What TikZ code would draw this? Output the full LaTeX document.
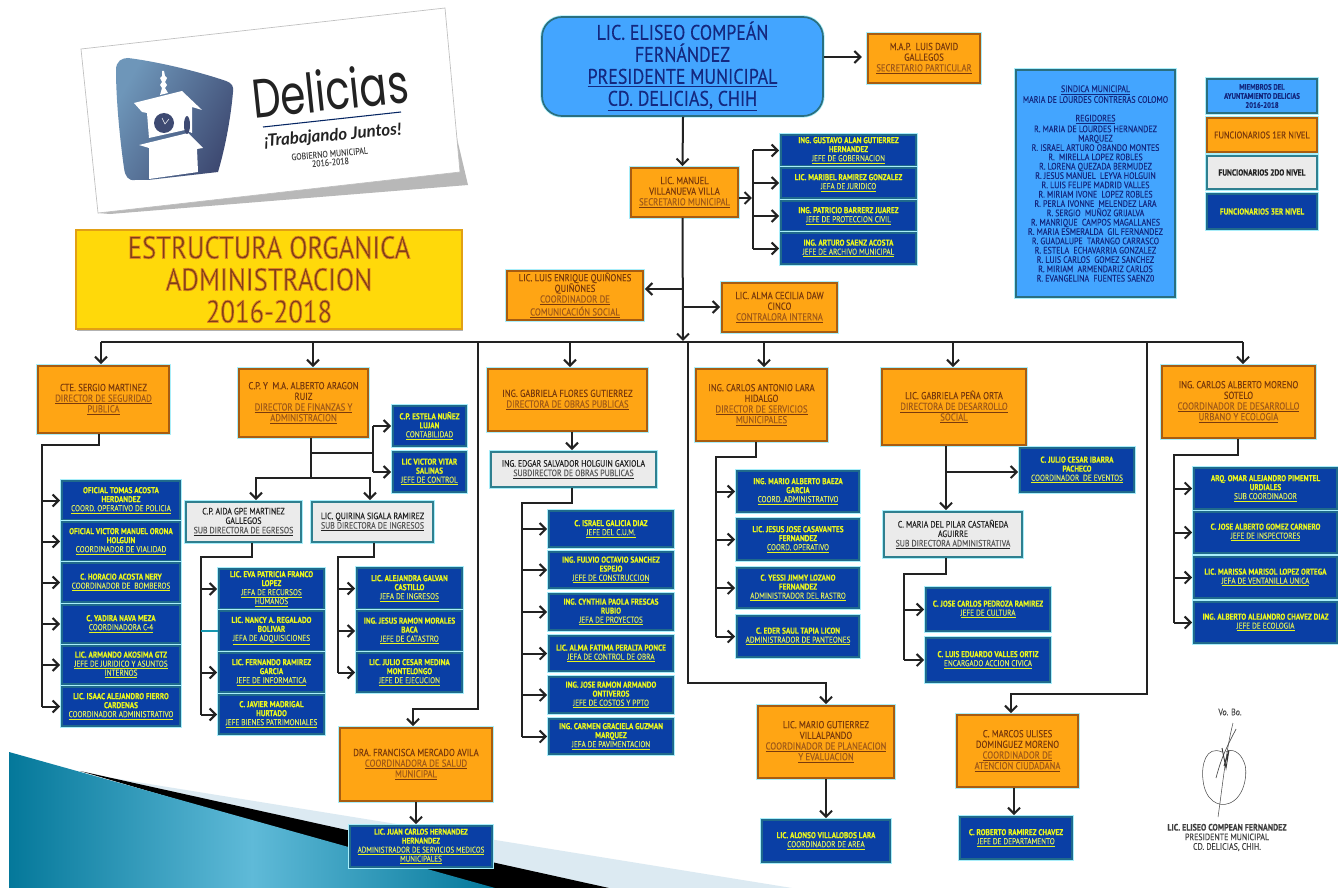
\documentclass[tikz,border=0pt]{standalone}
\usepackage{fontspec}
\usetikzlibrary{arrows.meta}
\setmainfont{PT Sans}[FakeStretch=0.85,FakeBold=0.18]
\newfontfamily\titlefont{PT Sans}[FakeStretch=0.85]
\newfontfamily\logofont{Poppins}[FakeStretch=0.74]
\newfontfamily\sloganfont{Lato}
\definecolor{glowc}{HTML}{A8EEFA}
\definecolor{orfill}{HTML}{FFA514}
\definecolor{orline}{HTML}{A85C10}
\definecolor{orname}{HTML}{7A3A0C}
\definecolor{orrole}{HTML}{A05A18}
\definecolor{blfill}{HTML}{0A3FA5}
\definecolor{blline}{HTML}{1F6A8C}
\definecolor{blname}{HTML}{E8F51E}
\definecolor{blrole}{HTML}{D8E860}
\definecolor{grfill}{HTML}{EBEBEB}
\definecolor{grline}{HTML}{2F7F8F}
\definecolor{skyfill}{HTML}{43A5FF}
\definecolor{skyline}{HTML}{2A6F80}
\definecolor{skytext}{HTML}{14287F}
\definecolor{inkc}{HTML}{222222}
\definecolor{towerd}{HTML}{3E4A72}
\definecolor{towerl}{HTML}{6E96B9}
\definecolor{wedged}{HTML}{04789A}
\definecolor{wedgel}{HTML}{5FBAD8}
\definecolor{stripe}{HTML}{DCEAF2}
\newcommand\rO[1]{\underline{\textcolor{orrole}{#1}}}
\newcommand\rB[1]{\underline{\mdseries\textcolor{blrole}{#1}}}
\newcommand\rG[1]{\underline{\textcolor{black!65}{#1}}}
\newcommand\rS[1]{\underline{#1}}
\newcommand\bx[7]{%
  \pgfmathsetmacro\bxw{(#5-#3)*0.75}\pgfmathsetmacro\bxh{(#6-#4)*0.75}%
  \pgfmathsetmacro\bxx{(#5+#3)/2}\pgfmathsetmacro\bxy{(#6+#4)/2}%
  \node[#2,minimum width=\bxw pt,minimum height=\bxh pt] (#1) at (\bxx,\bxy) {#7};}
\tikzset{
  basebox/.style={rectangle,inner sep=0pt,align=center,line width=1.3pt,
     preaction={draw=glowc,line width=3.2pt}},
  orbox/.style={basebox,fill=orfill,draw=orline,text=orname,font=\fontsize{7.6pt}{8pt}\selectfont},
  blbox/.style={basebox,fill=blfill,draw=blline,text=blname,font=\fontsize{6.4pt}{6.75pt}\selectfont\bfseries},
  grbox/.style={basebox,fill=grfill,draw=grline,text=inkc,font=\fontsize{6.9pt}{7.1pt}\selectfont},
  skybox/.style={basebox,fill=skyfill,draw=skyline,text=skytext,font=\fontsize{7pt}{7pt}\selectfont},
  ln/.style={draw=inkc,line width=1.5pt},
  arr/.style={ln,-{Straight Barb[length=4.5pt,width=9pt,line width=1.5pt]},shorten >=0.8pt},
  plain/.style={inner sep=0pt,align=center}
}
\begin{document}
\begin{tikzpicture}[x=0.75pt,y=-0.75pt]
\useasboundingbox (0,0) rectangle (1338,888);
\fill[white] (0,0) rectangle (1338,888);
% bottom-left wedge
\fill[stripe] (112,778) -- (792,888) -- (600,888) -- cycle;
\fill[black] (80,771) -- (609,888) -- (480,888) -- cycle;
\shade[left color=wedged,right color=wedged,middle color=wedgel]
  (9,752) -- (495,888) -- (9,888) -- cycle;
% logo card
\fill[black!28] (98,213) -- (110,214) -- (468,185) -- (455,130) -- (440,170) -- cycle;
\filldraw[fill=white,draw=black!25,line width=0.5pt] (81,49) -- (445,8) -- (460,172) -- (98,213) -- cycle;
\shade[left color=towerl,right color=towerd,shading angle=60]
  (128,58) .. controls (160,62) and (200,72) .. (226,81) .. controls (232,83) and (234,87) .. (233,92)
  .. controls (231,115) and (226,145) .. (218,172) -- (148,180) -- (135,180) .. controls (128,181) and (125,176) .. (124,168)
  .. controls (120,140) and (116,100) .. (116,70) .. controls (116,61) and (122,58) .. (128,58) -- cycle;
\fill[white] (162,71) -- (164,71) -- (165,76) -- (167,78) -- (165,82) -- (167,85) -- (165,88) -- (168,93) -- (160,95) -- (162,88) -- (160,85) -- (162,82) -- (160,78) -- (162,76) -- cycle;
\fill[white] (134,103) -- (182,91) -- (202,110) -- (192,107) -- (192,133) -- (185,130) -- (149,138) -- (147,113) -- (142,112) -- cycle;
\fill[white] (139,145) -- (188,133) -- (203,148) -- (197,149) -- (198,172) -- (149,179) -- (149,148) -- cycle;
\fill[towerd] (164,123) circle (10);
\fill[towerd] (187,125) ellipse (3 and 9);
\draw[white,line width=0.4pt] (162,118) -- (165,124) -- (169,119);
\node[plain,rotate=6,font=\logofont\fontsize{41pt}{42pt}\selectfont,text=inkc] (logoName) at (330,90) {Delicias};
\draw[color=blfill!60!black,line width=0.8pt] (263,127) -- (401,112);
\node[plain,rotate=5,font=\sloganfont\fontsize{12.6pt}{13pt}\selectfont\bfseries\itshape,text=inkc] (logoSlogan) at (333,136) {¡Trabajando Juntos!};
\node[plain,rotate=5,font=\fontsize{6.9pt}{6.4pt}\selectfont,text=black!70] (logoGov) at (330,158) {GOBIERNO MUNICIPAL\\2016-2018};
% title
\fill[black!30] (77,329) rectangle (463,331);
\bx{title}{rectangle,fill={rgb,255:red,255;green,217;blue,10},draw={rgb,255:red,226;green,160;blue,20},line width=1pt,align=center,inner sep=0pt,text={rgb,255:red,125;green,62;blue,24},font=\titlefont\fontsize{23.6pt}{24pt}\selectfont}{76}{230}{462}{329}{%
 \special{pdf:code q 2 Tr 0.5 w 0.88 0.52 0.12 RG}ESTRUCTURA ORGANICA\\ADMINISTRACION\\2016-2018\special{pdf:code Q}}
% top
\bx{pres}{rectangle,rounded corners=15pt,inner sep=0pt,align=center,fill=skyfill,draw=skyline,line width=1.3pt,preaction={draw=glowc,line width=2.5pt},text=skytext,font=\fontsize{15.8pt}{16.5pt}\selectfont}{542}{17}{823}{116}{LIC. ELISEO COMPEÁN\\FERNÁNDEZ\\\underline{PRESIDENTE MUNICIPAL}\\\underline{CD. DELICIAS, CHIH}}
\bx{luisdavid}{orbox}{868}{34}{980}{83}{M.A.P.~ LUIS DAVID\\GALLEGOS\\\rO{SECRETARIO PARTICULAR}}
\bx{manuel}{orbox}{631}{168}{738}{217}{LIC. MANUEL\\VILLANUEVA VILLA\\\rO{SECRETARIO MUNICIPAL}}
\bx{gustavo}{blbox}{781}{135}{916}{166}{ING. GUSTAVO ALAN GUTIERREZ\\HERNANDEZ\\\rB{JEFE DE GOBERNACION}}
\bx{maribel}{blbox}{781}{168}{916}{198}{LIC. MARIBEL RAMIREZ GONZALEZ\\\rB{JEFA DE JURIDICO}}
\bx{patricio}{blbox}{781}{201}{916}{231}{ING. PATRICIO BARRERZ JUAREZ\\\rB{JEFE DE PROTECCION CIVIL}}
\bx{arturo}{blbox}{781}{233}{916}{264}{ING. ARTURO SAENZ ACOSTA\\\rB{JEFE DE ARCHIVO MUNICIPAL}}
\bx{luisenrique}{orbox}{507}{271}{643}{320}{LIC. LUIS ENRIQUE QUIÑONES\\QUIÑONES\\\rO{COORDINADOR DE}\\\rO{COMUNICACIÓN SOCIAL}}
\bx{alma}{orbox}{722}{283}{837}{332}{LIC. ALMA CECILIA DAW\\CINCO\\\rO{CONTRALORA INTERNA}}
% ayuntamiento
\bx{sindica}{skybox}{1016}{70}{1175}{297}{\rS{SINDICA MUNICIPAL}\\MARIA DE LOURDES CONTRERAS COLOMO\\\mbox{}\\\rS{REGIDORES}\\R. MARIA DE LOURDES HERNANDEZ\\MARQUEZ\\R. ISRAEL ARTURO OBANDO MONTES\\R.~ MIRELLA LOPEZ ROBLES\\R. LORENA QUEZADA BERMUDEZ\\R. JESUS MANUEL~ LEYVA HOLGUIN\\R. LUIS FELIPE MADRID VALLES\\R. MIRIAM IVONE~ LOPEZ ROBLES\\R. PERLA IVONNE~ MELENDEZ LARA\\R. SERGIO~ MUÑOZ GRIJALVA\\R. MANRIQUE~ CAMPOS MAGALLANES\\R. MARIA ESMERALDA~ GIL FERNANDEZ\\R. GUADALUPE~ TARANGO CARRASCO\\R. ESTELA~ ECHAVARRIA GONZALEZ\\R. LUIS CARLOS~ GOMEZ SANCHEZ\\R. MIRIAM~ ARMENDARIZ CARLOS\\R. EVANGELINA~ FUENTES SAENZ0}
\bx{miembros}{skybox,font=\fontsize{6pt}{6.8pt}\selectfont\bfseries}{1207}{79}{1317}{113}{MIEMBROS DEL\\AYUNTAMIENTO DELICIAS\\2016-2018}
\bx{nivelA}{orbox,font=\fontsize{7.3pt}{7pt}\selectfont}{1207}{118}{1317}{152}{FUNCIONARIOS 1ER NIVEL}
\bx{nivelB}{grbox,font=\fontsize{6.6pt}{7pt}\selectfont\bfseries}{1207}{156}{1317}{189}{FUNCIONARIOS 2DO NIVEL}
\bx{nivelC}{blbox,font=\fontsize{6.5pt}{7pt}\selectfont\bfseries}{1207}{194}{1317}{229}{FUNCIONARIOS 3ER NIVEL}
% seguridad
\bx{sergio}{orbox}{38}{366}{169}{433}{CTE. SERGIO MARTINEZ\\\rO{DIRECTOR DE SEGURIDAD}\\\rO{PUBLICA}}
\bx{tomas}{blbox}{62}{481}{180}{520}{OFICIAL TOMAS ACOSTA\\HERDANDEZ\\\rB{COORD. OPERATIVO DE POLICIA}}
\bx{orona}{blbox}{62}{522}{180}{561}{OFICIAL VICTOR MANUEL ORONA\\HOLGUIN\\\rB{COORDINADOR DE VIALIDAD}}
\bx{horacio}{blbox}{62}{563}{180}{602}{C. HORACIO ACOSTA NERY\\\rB{COORDINADOR DE~ BOMBEROS}}
\bx{yadira}{blbox}{62}{605}{180}{643}{C. YADIRA NAVA MEZA\\\rB{COORDINADORA C-4}}
\bx{akosima}{blbox}{62}{646}{180}{684}{LIC. ARMANDO AKOSIMA GTZ\\\rB{JEFE DE JURIDICO Y ASUNTOS}\\\rB{INTERNOS}}
\bx{isaac}{blbox}{62}{687}{180}{726}{LIC. ISAAC ALEJANDRO FIERRO\\CARDENAS\\\rB{COORDINADOR ADMINISTRATIVO}}
% finanzas
\bx{aragon}{orbox}{239}{369}{368}{437}{C.P. Y~ M.A. ALBERTO ARAGON\\RUIZ\\\rO{DIRECTOR DE FINANZAS Y}\\\rO{ADMINISTRACION}}
\bx{estela}{blbox}{393}{406}{466}{446}{C.P. ESTELA NUÑEZ\\LUJAN\\\rB{CONTABILIDAD}}
\bx{vitar}{blbox}{393}{452}{466}{492}{LIC VICTOR VITAR\\SALINAS\\\rB{JEFE DE CONTROL}}
\bx{aida}{grbox}{186}{502}{301}{542}{C.P. AIDA GPE MARTINEZ\\GALLEGOS\\\rG{SUB DIRECTORA DE EGRESOS}}
\bx{quirina}{grbox}{312}{502}{433}{542}{LIC. QUIRINA SIGALA RAMIREZ\\\rG{SUB DIRECTORA DE INGRESOS}}
\bx{eva}{blbox}{219}{569}{324}{609}{LIC. EVA PATRICIA FRANCO\\LOPEZ\\\rB{JEFA DE RECURSOS}\\\rB{HUMANOS}}
\bx{nancy}{blbox}{219}{611}{324}{651}{LIC. NANCY A. REGALADO\\BOLIVAR\\\rB{JEFA DE ADQUISICIONES}}
\bx{fernando}{blbox}{219}{653}{324}{692}{LIC. FERNANDO RAMIREZ\\GARCIA\\\rB{JEFE DE INFORMATICA}}
\bx{javier}{blbox}{219}{695}{324}{734}{C. JAVIER MADRIGAL\\HURTADO\\\rB{JEFE BIENES PATRIMONIALES}}
\bx{alejandra}{blbox}{357}{568}{462}{609}{LIC. ALEJANDRA GALVAN\\CASTILLO\\\rB{JEFA DE INGRESOS}}
\bx{jramon}{blbox}{357}{611}{462}{651}{ING. JESUS RAMON MORALES\\BACA\\\rB{JEFE DE CATASTRO}}
\bx{jcesar}{blbox}{357}{653}{462}{692}{LIC. JULIO CESAR MEDINA\\MONTELONGO\\\rB{JEFE DE EJECUCION}}
% salud
\bx{francisca}{orbox}{340}{728}{492}{801}{DRA. FRANCISCA MERCADO AVILA\\\rO{COORDINADORA DE SALUD}\\\rO{MUNICIPAL}}
\bx{juan}{blbox,font=\fontsize{6.2pt}{6.75pt}\selectfont\bfseries}{350}{826}{492}{867}{LIC. JUAN CARLOS HERNANDEZ\\HERNANDEZ\\\rB{ADMINISTRADOR DE SERVICIOS MEDICOS}\\\rB{MUNICIPALES}}
% obras
\bx{gflores}{orbox}{488}{369}{647}{431}{ING. GABRIELA FLORES GUTIERREZ\\\rO{DIRECTORA DE OBRAS PUBLICAS}}
\bx{edgar}{grbox}{491}{452}{656}{487}{ING. EDGAR SALVADOR HOLGUIN GAXIOLA\\\rG{SUBDIRECTOR DE OBRAS PUBLICAS}}
\bx{israel}{blbox}{549}{511}{673}{547}{C. ISRAEL GALICIA DIAZ\\\rB{JEFE DEL C.U.M.}}
\bx{fulvio}{blbox}{549}{552}{673}{588}{ING. FULVIO OCTAVIO SANCHEZ\\ESPEJO\\\rB{JEFE DE CONSTRUCCION}}
\bx{cynthia}{blbox}{549}{594}{673}{630}{ING. CYNTHIA PAOLA FRESCAS\\RUBIO\\\rB{JEFA DE PROYECTOS}}
\bx{afatima}{blbox}{549}{636}{673}{671}{LIC. ALMA FATIMA PERALTA PONCE\\\rB{JEFA DE CONTROL DE OBRA}}
\bx{ontiveros}{blbox}{549}{677}{673}{713}{ING. JOSE RAMON ARMANDO\\ONTIVEROS\\\rB{JEFE DE COSTOS Y PPTO}}
\bx{carmen}{blbox}{549}{719}{673}{754}{ING. CARMEN GRACIELA GUZMAN\\MARQUEZ\\\rB{JEFA DE PAVIMENTACION}}
% servicios
\bx{carlosl}{orbox}{696}{369}{827}{441}{ING. CARLOS ANTONIO LARA\\HIDALGO\\\rO{DIRECTOR DE SERVICIOS}\\\rO{MUNICIPALES}}
\bx{baeza}{blbox}{737}{471}{859}{512}{ING. MARIO ALBERTO BAEZA\\GARCIA\\\rB{COORD. ADMINISTRATIVO}}
\bx{casavantes}{blbox}{737}{519}{859}{560}{LIC. JESUS JOSE CASAVANTES\\FERNANDEZ\\\rB{COORD. OPERATIVO}}
\bx{yessi}{blbox}{737}{568}{859}{608}{C. YESSI JIMMY LOZANO\\FERNANDEZ\\\rB{ADMINISTRADOR DEL RASTRO}}
\bx{eder}{blbox}{737}{616}{859}{657}{C. EDER SAUL TAPIA LICON\\\rB{ADMINISTRADOR DE PANTEONES}}
\bx{mario}{orbox}{758}{706}{894}{778}{LIC. MARIO GUTIERREZ\\VILLALPANDO\\\rO{COORDINADOR DE PLANEACION}\\\rO{Y EVALUACION}}
\bx{alonso}{blbox}{762}{820}{890}{862}{LIC. ALONSO VILLALOBOS LARA\\\rB{COORDINADOR DE AREA}}
% desarrollo social
\bx{gpena}{orbox}{882}{369}{1026}{445}{LIC. GABRIELA PEÑA ORTA\\\rO{DIRECTORA DE DESARROLLO}\\\rO{SOCIAL}}
\bx{ibarra}{blbox}{1020}{448}{1134}{492}{C. JULIO CESAR IBARRA\\PACHECO\\\rB{COORDINADOR~ DE EVENTOS}}
\bx{pilar}{grbox}{884}{512}{1022}{557}{C. MARIA DEL PILAR CASTAÑEDA\\AGUIRRE\\\rG{SUB DIRECTORA ADMINISTRATIVA}}
\bx{pedroza}{blbox}{926}{588}{1050}{631}{C. JOSE CARLOS PEDROZA RAMIREZ\\\rB{JEFE DE CULTURA}}
\bx{valles}{blbox}{926}{638}{1050}{682}{C. LUIS EDUARDO VALLES ORTIZ\\\rB{ENCARGADO ACCION CIVICA}}
\bx{marcos}{orbox}{957}{715}{1078}{787}{C. MARCOS ULISES\\DOMINGUEZ MORENO\\\rO{COORDINADOR DE}\\\rO{ATENCION CIUDADANA}}
\bx{roberto}{blbox}{960}{817}{1072}{859}{C. ROBERTO RAMIREZ CHAVEZ\\\rB{JEFE DE DEPARTAMENTO}}
% desarrollo urbano
\bx{moreno}{orbox}{1162}{366}{1315}{438}{ING. CARLOS ALBERTO MORENO\\SOTELO\\\rO{COORDINADOR DE DESARROLLO}\\\rO{URBANO Y ECOLOGIA}}
\bx{omar}{blbox}{1194}{468}{1337}{509}{ARQ. OMAR ALEJANDRO PIMENTEL\\URDIALES\\\rB{SUB COORDINADOR}}
\bx{gomez}{blbox}{1194}{512}{1337}{553}{C. JOSE ALBERTO GOMEZ CARNERO\\\rB{JEFE DE INSPECTORES}}
\bx{marissa}{blbox}{1194}{557}{1337}{598}{LIC. MARISSA MARISOL LOPEZ ORTEGA\\\rB{JEFA DE VENTANILLA UNICA}}
\bx{chavez}{blbox}{1194}{602}{1337}{643}{ING. ALBERTO ALEJANDRO CHAVEZ DIAZ\\\rB{JEFE DE ECOLOGIA}}
% signature
\node[plain,text=black!70,font=\fontsize{7pt}{7pt}\selectfont] (vobo) at (1230,712) {Vo. Bo.};
\node[plain,text=black!75,font=\fontsize{7pt}{7.2pt}\selectfont] (firma) at (1227,837.5) {\textbf{LIC. ELISEO COMPEAN FERNANDEZ}\\PRESIDENTE MUNICIPAL\\CD. DELICIAS, CHIH.};
\draw[black!70,line width=0.4pt] (1233,723) .. controls (1226,750) and (1222,790) .. (1218,817);
\draw[black!70,line width=0.5pt] (1236,729) .. controls (1228,745) and (1222,755) .. (1216,778);
\draw[black!70,line width=0.4pt] (1222,752) .. controls (1206,745) and (1201,765) .. (1203,780)
   .. controls (1205,800) and (1218,808) .. (1230,803) .. controls (1246,796) and (1248,770) .. (1244,762)
   .. controls (1240,752) and (1232,748) .. (1226,752);
\draw[black!80,line width=0.7pt] (1222,748) -- (1226,768) -- (1229,750) -- (1224,766);
% connectors
\coordinate (busL) at (101,342);
\coordinate (busR) at (1243,342);
\coordinate (busHit) at (683,342);
\draw[ln] (busL) -- (busR);
\draw[arr] (pres.south) ++(0.5,0) -- (manuel.north -| pres.south);
\draw[arr] (pres.east |- luisdavid.west) ++(0,-1.5) -- ++(39,0);
\draw[arr] (manuel.south -| pres.south) -- (busHit);
\coordinate (mTrunk) at (753,198);
\draw[ln] (mTrunk |- gustavo.west) -- (mTrunk |- arturo.west);
\draw[arr] (manuel.east |- mTrunk) -- (mTrunk);
\foreach \n in {gustavo,maribel,patricio,arturo} \draw[arr] (mTrunk |- \n.west) -- (\n.west);
\coordinate (kL) at (683,289);
\coordinate (kR) at (683,307);
\draw[arr] (kL) -- (luisenrique.east |- kL);
\draw[arr] (kR) -- (alma.west |- kR);
% drops from bus
\draw[arr] (busL) -- (busL |- sergio.north);
\draw[arr] (313,342) -- (313,0 |- aragon.north);
\draw[arr] (570,342) -- (570,0 |- gflores.north);
\draw[arr] (764,342) -- (764,0 |- carlosl.north);
\draw[arr] (953,342) -- (953,0 |- gpena.north);
\draw[arr] (busR) -- (busR |- moreno.north);
% long runs
\coordinate (r1a) at (478,342); \coordinate (r1b) at (478,709);
\coordinate (r2a) at (688,342); \coordinate (r2b) at (688,683);
\coordinate (r3a) at (1147,342); \coordinate (r3b) at (1147,694);
\draw[arr] (r1a) -- (r1b) -| (413,0 |- francisca.north);
\draw[arr] (r2a) -- (r2b) -| (826,0 |- mario.north);
\draw[arr] (r3a) -- (r3b) -| (1011,0 |- marcos.north);
\draw[arr] (416,0 |- francisca.south) -- (416,0 |- juan.north);
\draw[arr] (826,0 |- mario.south) -- (826,0 |- alonso.north);
\draw[arr] (1014,0 |- marcos.south) -- (1014,0 |- roberto.north);
% sergio
\coordinate (sT) at (42,445);
\draw[ln] (99,0 |- sergio.south) |- (sT) -- (sT |- isaac.west);
\foreach \n in {tomas,orona,horacio,yadira,akosima,isaac} \draw[arr] (sT |- \n.west) -- (\n.west);
% aragon
\coordinate (aH) at (311,478);
\coordinate (aV) at (373,453);
\draw[ln] (311,0 |- aragon.south) -- (aH);
\draw[ln] (311,453) -- (aV);
\draw[ln] (aV |- estela.west) -- (aV |- vitar.west);
\foreach \n in {estela,vitar} \draw[arr] (aV |- \n.west) -- (\n.west);
\draw[arr] (aH) -| (256,0 |- aida.north);
\draw[arr] (aH) -| (370,0 |- quirina.north);
\coordinate (aT) at (201,557);
\draw[ln] (252,0 |- aida.south) |- (aT) -- (aT |- javier.west);
\foreach \n in {eva,fernando,javier} \draw[arr] (aT |- \n.west) -- (\n.west);
\draw[line width=1pt,color=blline!70!cyan] (aT |- nancy.west) -- (nancy.west);
\coordinate (qT) at (338,557);
\draw[ln] (374,0 |- quirina.south) |- (qT) -- (qT |- jcesar.west);
\foreach \n in {alejandra,jramon,jcesar} \draw[arr] (qT |- \n.west) -- (\n.west);
% obras
\draw[arr] (572,0 |- gflores.south) -- (572,0 |- edgar.north);
\coordinate (oT) at (522,503);
\draw[ln] (572,0 |- edgar.south) |- (oT) -- (oT |- carmen.west);
\foreach \n in {israel,fulvio,cynthia,afatima,ontiveros,carmen} \draw[arr] (oT |- \n.west) -- (\n.west);
% servicios
\coordinate (cT) at (716,457);
\draw[ln] (756,0 |- carlosl.south) |- (cT) -- (cT |- eder.west);
\foreach \n in {baeza,casavantes,yessi,eder} \draw[arr] (cT |- \n.west) -- (\n.west);
% social
\coordinate (gT) at (946,472);
\draw[arr] (946,0 |- gpena.south) -- (946,0 |- pilar.north);
\draw[arr] (gT) -- (ibarra.west |- gT);
\coordinate (pT) at (904,574);
\draw[ln] (946,0 |- pilar.south) |- (pT) -- (pT |- valles.west);
\foreach \n in {pedroza,valles} \draw[arr] (pT |- \n.west) -- (\n.west);
% urbano
\coordinate (uT) at (1174,455);
\draw[ln] (1238,0 |- moreno.south) |- (uT) -- (uT |- chavez.west);
\foreach \n in {omar,gomez,marissa,chavez} \draw[arr] (uT |- \n.west) -- (\n.west);
\end{tikzpicture}
\end{document}
